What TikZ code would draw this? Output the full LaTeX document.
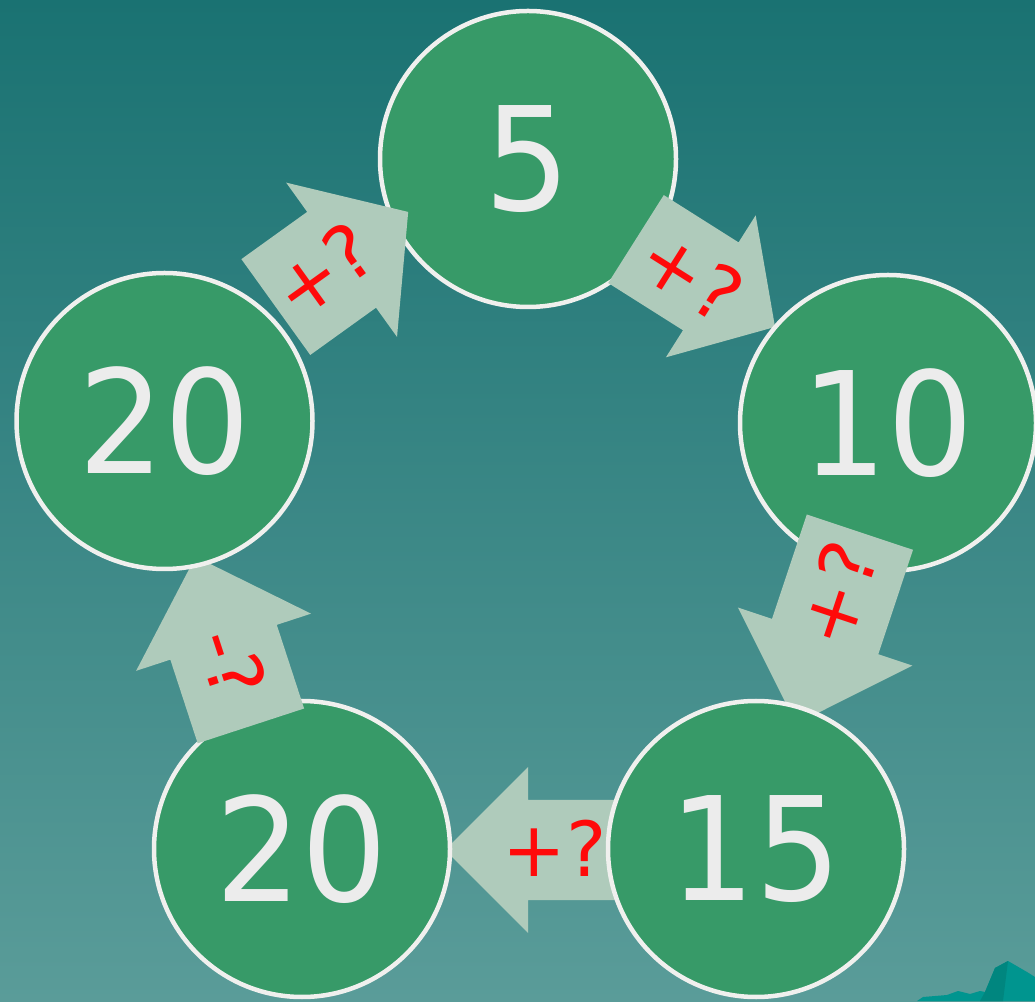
\documentclass[tikz,border=0pt]{standalone}
\usepackage{fontspec}
\setmainfont{DejaVu Sans}
\newfontfamily\digitfont[FakeStretch=0.94]{DejaVu Sans}
\definecolor{bgtop}{HTML}{1A7272}
\definecolor{bgbot}{HTML}{5A9C99}
\definecolor{circfill}{HTML}{379A68}
\definecolor{circline}{HTML}{F0F0EE}
\definecolor{digit}{HTML}{ECECEC}
\definecolor{arrfill}{HTML}{AFCBBB}
\definecolor{qred}{HTML}{FF0A0A}
\definecolor{mtlight}{HTML}{00958F}
\definecolor{mtdark}{HTML}{00867F}
\tikzset{
  numcirc/.style={circle, fill=circfill, draw=circline, line width=4.5pt,
    minimum size=296pt, inner sep=0pt, text=digit,
    font=\digitfont\fontsize{144}{144}\selectfont},
  oplabel/.style={text=qred, inner sep=0pt, font=\fontsize{76}{76}\selectfont},
  arrowbody/.style={fill=arrfill}
}
% name, cx, cy, angle, length, shaft half-width, head half-width, head length
\newcommand\blockarrow[8]{%
  \begin{scope}[shift={(#2,#3)},rotate=#4]
    \fill[arrowbody] ({-#5/2},{-#6}) -- ({#5/2-#8},{-#6}) -- ({#5/2-#8},{-#7})
      -- ({#5/2},0) -- ({#5/2-#8},{#7}) -- ({#5/2-#8},{#6}) -- ({-#5/2},{#6}) -- cycle;
    \coordinate (#1) at (0,0);
  \end{scope}}
\begin{document}
\begin{tikzpicture}[x=1pt,y=1pt]
\useasboundingbox (0,0) rectangle (1035,1001);
\shade[top color=bgtop, bottom color=bgbot] (0,0) rectangle (1035,1001);
% mountain decoration
\fill[mtlight] (917,0) -- (923,4) -- (947,6) -- (958,10) -- (970,7) -- (980,10) -- (985,9)
  -- (995,33) -- (1008,40) -- (1027,29) -- (1035,24) -- (1035,0) -- cycle;
\fill[mtdark] (985,9) -- (995,33) -- (1008,40) -- (1003,0) -- (980,0) -- cycle;

\node[numcirc] (c5) at (528,842) {5};
\blockarrow{a1}{342}{741.5}{35.7}{163}{59}{95}{82}
\node[oplabel, rotate=35.7] (t1) at (323,731) {+?};
\blockarrow{a2}{705.5}{718}{-32.3}{164.5}{52}{84}{76}
\node[oplabel, rotate=-32.3] (t2) at (692,726) {+?};
\node[numcirc] (c10) at (888,578) {10};
\blockarrow{a3}{828}{373}{-108.4}{202}{56}{92}{92}
\node[oplabel, rotate=71.6] (t3) at (837,407) {+?};
\blockarrow{a4}{542.5}{151}{180}{195}{50}{83}{83}
\node[oplabel] (t4) at (555,153) {+?};
\node[numcirc] (c15) at (756,152) {15};
\node[numcirc] (c20b) at (302,152) {20};
\blockarrow{a5}{223.25}{359.7}{108.1}{178}{56}{92}{90}
\node[oplabel, rotate=-71.9] (t5) at (232,338) {-?};
\node[numcirc] (c20l) at (164.5,580) {20};
\end{tikzpicture}
\end{document}
